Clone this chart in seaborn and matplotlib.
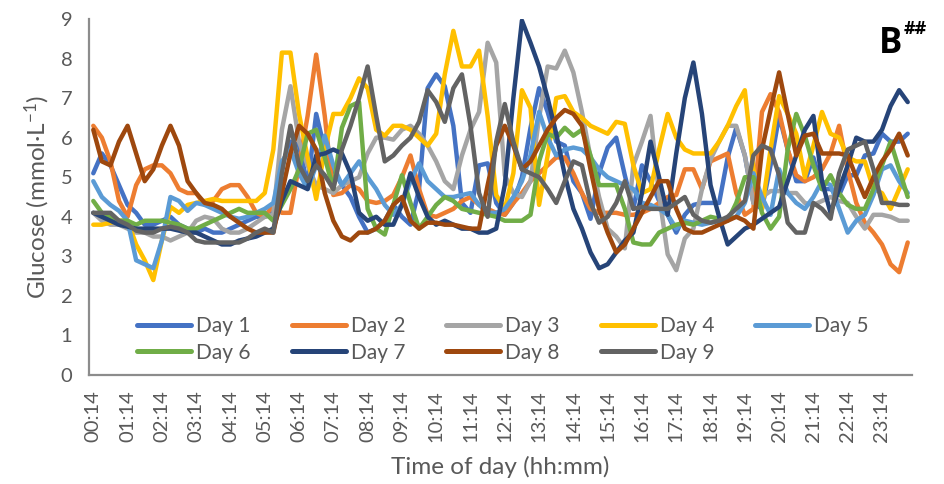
import numpy as np
import pandas as pd
import seaborn as sns
import matplotlib
matplotlib.use("Agg")
import matplotlib.pyplot as plt

# ---- data (15-min CGM readings, 00:14 .. 23:59) ----
day1 = [5.1, 5.6, 5.3, 4.8, 4.3, 4.1, 3.8, 3.8, 3.9, 4.0, 3.8, 3.7, 3.6, 3.7, 3.6, 3.6,
        3.7, 3.8, 3.9, 4.0, 4.0, 4.1, 5.3, 5.9, 5.8, 4.8, 6.6, 5.7, 5.2, 4.8, 4.5, 4.0,
        3.6, 3.7, 3.9, 4.3, 4.0, 3.8, 4.7, 7.25, 7.6, 7.3, 6.3, 4.35, 4.1, 5.3, 5.35, 4.35,
        4.05, 4.35, 5.0, 6.25, 7.25, 6.65, 5.9, 5.8, 4.9, 4.6, 3.95, 5.1, 5.75, 6.0,
        5.05, 4.2, 5.3, 4.9, 4.4, 4.05, 3.6, 4.05, 4.3, 4.35, 4.35, 4.35, 5.5, 6.25, 5.55, 4.35,
        4.2, 5.3, 6.55, 5.7, 4.9, 4.9, 5.5, 4.7, 4.7, 4.55, 5.05, 5.05, 5.55, 5.6, 6.1, 5.9, 5.9, 6.1]
day2 = [6.3, 6.0, 5.4, 4.4, 4.0, 4.8, 5.2, 5.3, 5.3, 5.1, 4.7, 4.6, 4.6, 4.3, 4.4, 4.7,
        4.8, 4.8, 4.5, 4.1, 4.0, 4.3, 4.1, 4.1, 5.3, 6.55, 8.1, 6.55, 4.55, 4.6, 4.8, 4.7,
        4.4, 4.35, 4.4, 4.55, 5.0, 5.55, 4.7, 4.05, 4.0, 4.1, 4.2, 4.4, 4.5, 4.3, 4.2, 4.1,
        4.05, 4.35, 4.6, 4.9, 5.1, 5.3, 5.5, 5.5, 5.1, 4.6, 4.2, 4.1, 4.1, 4.1,
        4.05, 4.05, 4.1, 4.2, 4.35, 4.5, 4.55, 5.2, 5.2, 4.7, 5.4, 5.5, 5.6, 4.6, 4.05, 4.2,
        6.65, 7.1, 6.65, 5.7, 5.05, 4.9, 5.0, 5.2, 5.6, 6.3, 5.2, 4.35, 3.85, 3.6, 3.3, 2.8, 2.6, 3.35]
day3 = [4.1, 3.9, 3.8, 3.8, 3.7, 3.6, 3.6, 3.5, 3.5, 3.4, 3.5, 3.6, 3.9, 4.0, 3.95, 3.7,
        3.6, 3.6, 3.7, 3.85, 4.0, 4.05, 6.2, 7.3, 5.9, 5.3, 4.8, 4.7, 4.6, 4.8, 4.9, 5.0,
        5.6, 6.0, 6.0, 5.95, 6.2, 6.3, 6.1, 5.8, 5.4, 4.9, 4.7, 5.55, 6.2, 6.65, 8.4, 7.9,
        5.05, 4.6, 4.5, 4.9, 6.5, 7.8, 7.75, 8.2, 7.65, 6.65, 5.5, 4.5, 3.7, 3.5,
        3.2, 5.3, 5.9, 6.55, 4.55, 3.05, 2.65, 3.45, 3.7, 4.7, 5.45, 5.9, 6.3, 6.3, 5.55, 4.35,
        4.5, 4.65, 4.65, 4.6, 4.6, 4.35, 4.3, 4.4, 4.5, 4.4, 4.35, 4.0, 3.7, 4.05, 4.05, 4.0, 3.9, 3.9]
day4 = [3.8, 3.8, 3.85, 3.9, 3.9, 3.3, 2.9, 2.4, 3.4, 4.25, 4.1, 4.3, 4.35, 4.4, 4.45, 4.4,
        4.4, 4.4, 4.4, 4.4, 4.6, 5.7, 8.15, 8.15, 6.6, 5.5, 4.45, 5.7, 6.6, 6.6, 7.0, 7.5,
        7.25, 6.2, 6.05, 6.3, 6.3, 6.2, 6.0, 5.8, 6.1, 7.6, 8.7, 7.8, 7.8, 8.2, 6.55, 4.55,
        4.2, 5.1, 7.2, 6.75, 4.3, 5.55, 7.0, 7.05, 6.65, 6.5, 6.3, 6.2, 6.1, 6.4,
        6.35, 5.3, 4.6, 4.7, 5.7, 6.6, 6.0, 5.7, 5.6, 5.6, 5.6, 5.9, 6.3, 6.8, 7.2, 5.2,
        4.2, 5.7, 7.05, 6.6, 6.1, 5.0, 5.8, 6.65, 6.1, 6.0, 5.5, 5.4, 5.4, 4.7, 4.6, 4.2, 4.7, 5.2]
day5 = [4.9, 4.5, 4.3, 4.15, 3.9, 2.9, 2.8, 2.7, 3.4, 4.5, 4.4, 4.15, 4.35, 4.3, 4.2, 4.1,
        4.0, 3.95, 4.0, 4.1, 4.2, 4.35, 5.4, 5.7, 5.1, 4.7, 5.3, 6.05, 5.3, 4.8, 5.1, 5.4,
        5.0, 4.7, 4.3, 4.05, 4.3, 4.9, 5.35, 4.9, 4.7, 4.5, 4.5, 4.55, 4.6, 4.3, 4.1, 4.1,
        4.2, 4.5, 4.9, 5.55, 6.65, 6.0, 5.55, 5.7, 5.75, 5.7, 5.5, 5.2, 5.0, 4.9,
        4.8, 4.7, 4.35, 4.3, 4.2, 4.05, 3.7, 3.9, 3.85, 3.8, 3.85, 3.9, 3.95, 4.0, 4.35, 5.1,
        4.5, 4.05, 5.2, 4.6, 4.35, 4.2, 4.5, 4.9, 4.8, 4.2, 3.6, 3.9, 4.05, 4.55, 5.2, 5.3, 4.9, 4.6]
day6 = [4.4, 4.1, 4.0, 3.9, 3.9, 3.8, 3.9, 3.9, 3.9, 3.85, 3.8, 3.7, 3.7, 3.8, 3.9, 4.0,
        4.1, 4.2, 4.1, 4.1, 4.1, 3.9, 4.3, 4.7, 5.2, 6.1, 6.2, 5.5, 4.7, 6.25, 6.8, 6.9,
        4.2, 3.7, 3.55, 4.3, 5.05, 4.35, 3.7, 4.0, 4.3, 4.5, 4.4, 4.2, 4.15, 4.1, 4.05, 4.0,
        3.9, 3.9, 3.9, 4.05, 5.4, 6.1, 6.0, 6.25, 6.05, 6.2, 5.55, 4.8, 4.8, 4.8,
        4.2, 3.35, 3.3, 3.3, 3.6, 3.7, 3.8, 3.85, 3.8, 3.9, 4.0, 3.95, 3.9, 4.35, 5.0, 5.0,
        4.1, 3.7, 4.0, 5.7, 6.6, 6.05, 5.3, 4.7, 5.05, 4.6, 4.3, 4.2, 4.2, 4.7, 5.3, 5.9, 5.2, 4.5]
day7 = [4.1, 4.0, 3.9, 3.8, 3.75, 3.7, 3.7, 3.7, 3.7, 3.7, 3.65, 3.6, 3.6, 3.5, 3.4, 3.3,
        3.3, 3.4, 3.45, 3.5, 3.6, 3.7, 4.4, 4.9, 4.8, 4.7, 5.55, 5.6, 5.7, 5.6, 5.1, 4.1,
        3.9, 4.0, 3.8, 3.8, 4.3, 5.1, 4.5, 4.0, 3.8, 3.9, 3.8, 3.7, 3.7, 3.6, 3.6, 3.7,
        4.8, 7.0, 8.96, 8.4, 7.8, 7.0, 6.1, 5.05, 4.2, 3.7, 3.1, 2.7, 2.8, 3.1,
        3.4, 3.6, 4.6, 5.9, 5.0, 4.05, 5.6, 7.0, 7.9, 6.6, 4.8, 4.0, 3.3, 3.5, 3.7, 3.8,
        3.95, 4.1, 4.25, 4.9, 5.55, 6.2, 6.55, 4.9, 4.1, 4.7, 5.3, 6.0, 5.9, 5.9, 6.2, 6.8, 7.2, 6.9]
day8 = [6.2, 5.4, 5.3, 5.9, 6.3, 5.6, 4.9, 5.2, 5.8, 6.3, 5.8, 4.9, 4.6, 4.35, 4.3, 4.2,
        4.0, 3.85, 3.7, 3.6, 3.6, 3.6, 4.6, 5.6, 6.3, 6.1, 5.7, 4.6, 3.9, 3.5, 3.4, 3.6,
        3.6, 3.7, 3.9, 4.3, 4.5, 3.9, 3.7, 3.85, 3.85, 3.8, 3.8, 3.75, 3.7, 3.7, 4.8, 5.8,
        6.3, 5.8, 5.2, 5.4, 5.8, 6.2, 6.5, 6.7, 6.6, 6.3, 5.2, 4.2, 3.6, 3.1,
        3.3, 3.7, 4.1, 4.5, 4.9, 4.9, 4.2, 3.7, 3.6, 3.6, 3.7, 3.8, 3.9, 4.0, 3.9, 3.7,
        5.7, 6.7, 7.65, 6.6, 5.55, 6.05, 6.1, 5.6, 5.6, 5.6, 5.55, 5.0, 4.5, 5.0, 5.4, 5.7, 6.1, 5.55]
day9 = [4.1, 4.1, 4.1, 3.9, 3.8, 3.65, 3.6, 3.6, 3.7, 3.75, 3.7, 3.6, 3.4, 3.35, 3.35, 3.35,
        3.35, 3.35, 3.45, 3.6, 3.7, 3.6, 5.1, 6.3, 5.3, 4.9, 5.3, 5.05, 4.7, 5.7, 6.3, 7.0,
        7.8, 6.55, 5.4, 5.55, 5.8, 6.0, 6.4, 7.2, 6.9, 6.4, 7.25, 7.6, 6.3, 4.6, 4.0, 5.9,
        6.85, 5.9, 5.2, 5.1, 5.0, 4.7, 4.35, 4.9, 5.4, 5.3, 4.35, 3.85, 4.0, 4.35,
        4.9, 4.2, 4.25, 4.2, 4.2, 4.2, 4.35, 4.5, 4.05, 3.9, 3.85, 3.9, 4.0, 4.2, 4.4, 5.55,
        5.8, 5.7, 5.05, 3.85, 3.6, 3.6, 4.35, 4.2, 3.95, 5.1, 5.7, 5.8, 5.9, 5.2, 4.35, 4.35, 4.3, 4.3]

series_names = ["Day 1", "Day 2", "Day 3", "Day 4", "Day 5", "Day 6", "Day 7", "Day 8", "Day 9"]
series_values = [day1, day2, day3, day4, day5, day6, day7, day8, day9]
colors = ["#4472C4", "#ED7D31", "#A5A5A5", "#FFC000", "#5B9BD5",
          "#70AD47", "#264478", "#9E480E", "#636363"]
hour_labels = [f"{h:02d}:14" for h in range(24)]

# long-form table
n = len(day1)
rows = []
for name, vals in zip(series_names, series_values):
    for i, v in enumerate(vals):
        rows.append({"idx": i, "Glucose": v, "Day": name})
df = pd.DataFrame(rows)

sns.set_theme(style="white")
plt.rcParams["font.family"] = ["Lato", "DejaVu Sans"]
plt.rcParams["mathtext.fontset"] = "custom"
plt.rcParams["mathtext.rm"] = "Lato"
plt.rcParams["mathtext.bf"] = "Lato:bold"

fig = plt.figure(figsize=(9.44, 4.84), dpi=100)
ax = fig.add_axes([89 / 944, 1 - 375 / 484, (912 - 89) / 944, (375 - 19) / 484])

sns.lineplot(data=df, x="idx", y="Glucose", hue="Day", hue_order=series_names,
             palette=colors, linewidth=3.2, sort=False, ax=ax, legend=True)

txt = "#595959"
ax.set_xlim(-0.5, n - 0.5)
ax.set_ylim(0, 9)
ax.set_yticks(range(0, 10))
ax.set_xticks(range(0, 96, 4))
ax.set_xticklabels(hour_labels, rotation=90)
ax.tick_params(axis="both", length=0, labelsize=14.5, colors=txt)
ax.tick_params(axis="y", pad=12)
ax.tick_params(axis="x", pad=11)
for s in ["top", "right"]:
    ax.spines[s].set_visible(False)
for s in ["left", "bottom"]:
    ax.spines[s].set_color("#8C8C8C")
    ax.spines[s].set_linewidth(1.6)

ax.set_xlabel("Time of day (hh:mm)", fontsize=17.5, color=txt, labelpad=10)
ax.set_ylabel(r"Glucose (mmol·L$\mathregular{^{-1}}$)", fontsize=17.5, color=txt, labelpad=6)

handles, labels = ax.get_legend_handles_labels()
hmap = dict(zip(labels, handles))
order = ["Day 1", "Day 6", "Day 2", "Day 7", "Day 3", "Day 8", "Day 4", "Day 9", "Day 5"]
leg = ax.legend([hmap[k] for k in order], order, ncol=5, loc="center",
                bbox_to_anchor=(0.503, 0.100), frameon=False, fontsize=15,
                handlelength=2.6, handletextpad=0.25, columnspacing=1.95,
                labelspacing=0.3, labelcolor=txt)
for line in leg.get_lines():
    line.set_linewidth(3.6)

fig.text(879 / 944, 1 - 53 / 484, "B", fontsize=25, fontweight="bold", color="black",
         family=["Open Sans", "DejaVu Sans"])
fig.text(904 / 944, 1 - 34 / 484, "##", fontsize=13, fontweight="bold", color="black",
         family=["Open Sans", "DejaVu Sans"])

fig.savefig("out.png", dpi=100)
